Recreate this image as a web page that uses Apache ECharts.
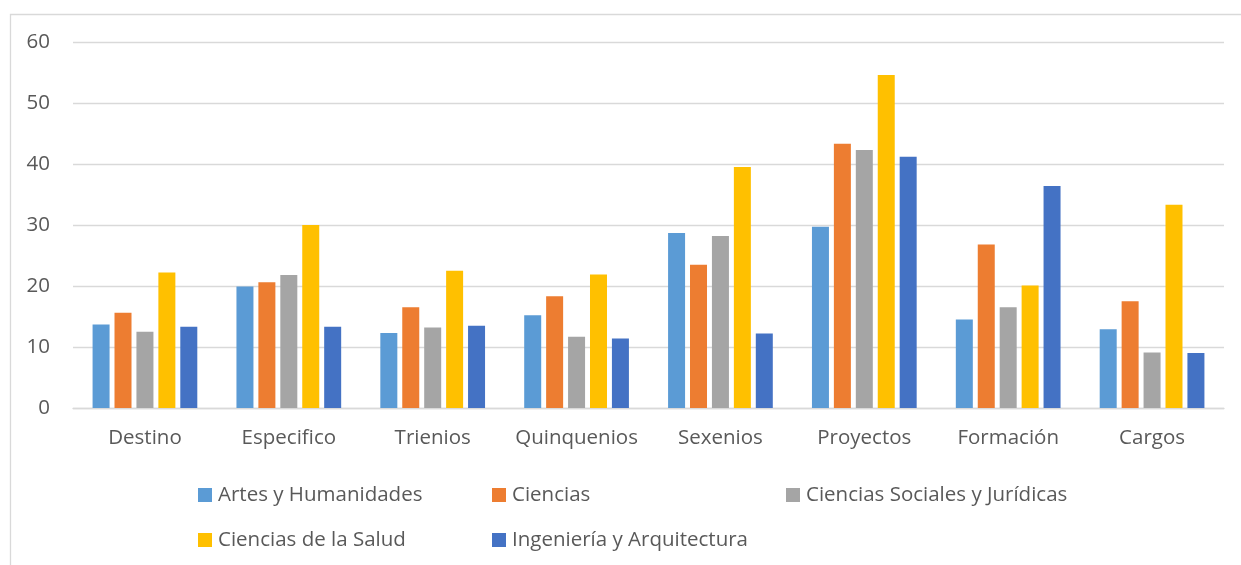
<!DOCTYPE html>
<html>
<head>
<meta charset="utf-8">
<script src="https://cdn.jsdelivr.net/npm/echarts@6/dist/echarts.min.js"></script>
<style>
html,body{margin:0;padding:0;background:#fff;}
#chart{width:1241px;height:565px;}
</style>
</head>
<body>
<div id="chart"></div>
<script>
const categories = ["Destino", "Especifico", "Trienios", "Quinquenios", "Sexenios", "Proyectos", "Formación", "Cargos"];
const seriesNames = ["Artes y Humanidades", "Ciencias", "Ciencias Sociales y Jurídicas", "Ciencias de la Salud", "Ingeniería y Arquitectura"];
const artesHumanidades = [13.7, 19.9, 12.3, 15.2, 28.7, 29.7, 14.5, 12.9];
const ciencias = [15.6, 20.6, 16.5, 18.3, 23.5, 43.3, 26.8, 17.5];
const cienciasSociales = [12.5, 21.8, 13.2, 11.7, 28.2, 42.3, 16.5, 9.1];
const cienciasSalud = [22.2, 30.0, 22.5, 21.9, 39.5, 54.6, 20.1, 33.3];
const ingenieria = [13.3, 13.3, 13.5, 11.4, 12.2, 41.2, 36.4, 9.0];
const yTicks = [0, 10, 20, 30, 40, 50, 60];

const colors = ["#5B9BD5", "#ED7D31", "#A5A5A5", "#FFC000", "#4472C4"];
const seriesData = [artesHumanidades, ciencias, cienciasSociales, cienciasSalud, ingenieria];
const font = "'Open Sans', 'Noto Sans', sans-serif";
const textColor = "#595959";

const legendPos = [[198, 483], [492, 483], [786, 483], [198, 528], [492, 528]];

const chart = echarts.init(document.getElementById('chart'), null, {renderer: 'canvas'});
chart.setOption({
  animation: false,
  color: colors,
  textStyle: {fontFamily: font},
  graphic: [{
    type: 'rect',
    left: 8, top: 12,
    shape: {width: 1300, height: 600},
    style: {fill: 'none', stroke: '#d9d9d9', lineWidth: 1.3},
    silent: true, z: -1
  }],
  grid: {left: 73, right: 17, top: 42, bottom: 157, outerBoundsMode: 'none', containLabel: false},
  legend: seriesNames.map((n, i) => ({
    data: [n],
    left: legendPos[i][0], top: legendPos[i][1],
    padding: 0,
    icon: 'rect', itemWidth: 14, itemHeight: 14, itemGap: 0,
    textStyle: {fontFamily: font, fontSize: 20.5, color: textColor, lineHeight: 24, padding: [0,0,0,1]},
    selectedMode: false
  })),
  xAxis: {
    type: 'category',
    data: categories,
    axisLine: {show: true, lineStyle: {color: '#d9d9d9', width: 1.3}},
    axisTick: {show: false},
    axisLabel: {interval: 0, fontFamily: font, fontSize: 20.5, color: textColor, margin: 20}
  },
  yAxis: {
    type: 'value',
    min: yTicks[0], max: yTicks[yTicks.length - 1], interval: 10,
    axisLine: {show: false},
    axisTick: {show: false},
    splitLine: {lineStyle: {color: '#d9d9d9', width: 1.3}},
    axisLabel: {fontFamily: font, fontSize: 20.5, color: textColor, margin: 23}
  },
  series: seriesNames.map((n, i) => ({
    name: n,
    type: 'bar',
    data: seriesData[i],
    barWidth: 17,
    barGap: '29%',
    itemStyle: {color: colors[i]}
  }))
});
</script>
</body>
</html>
